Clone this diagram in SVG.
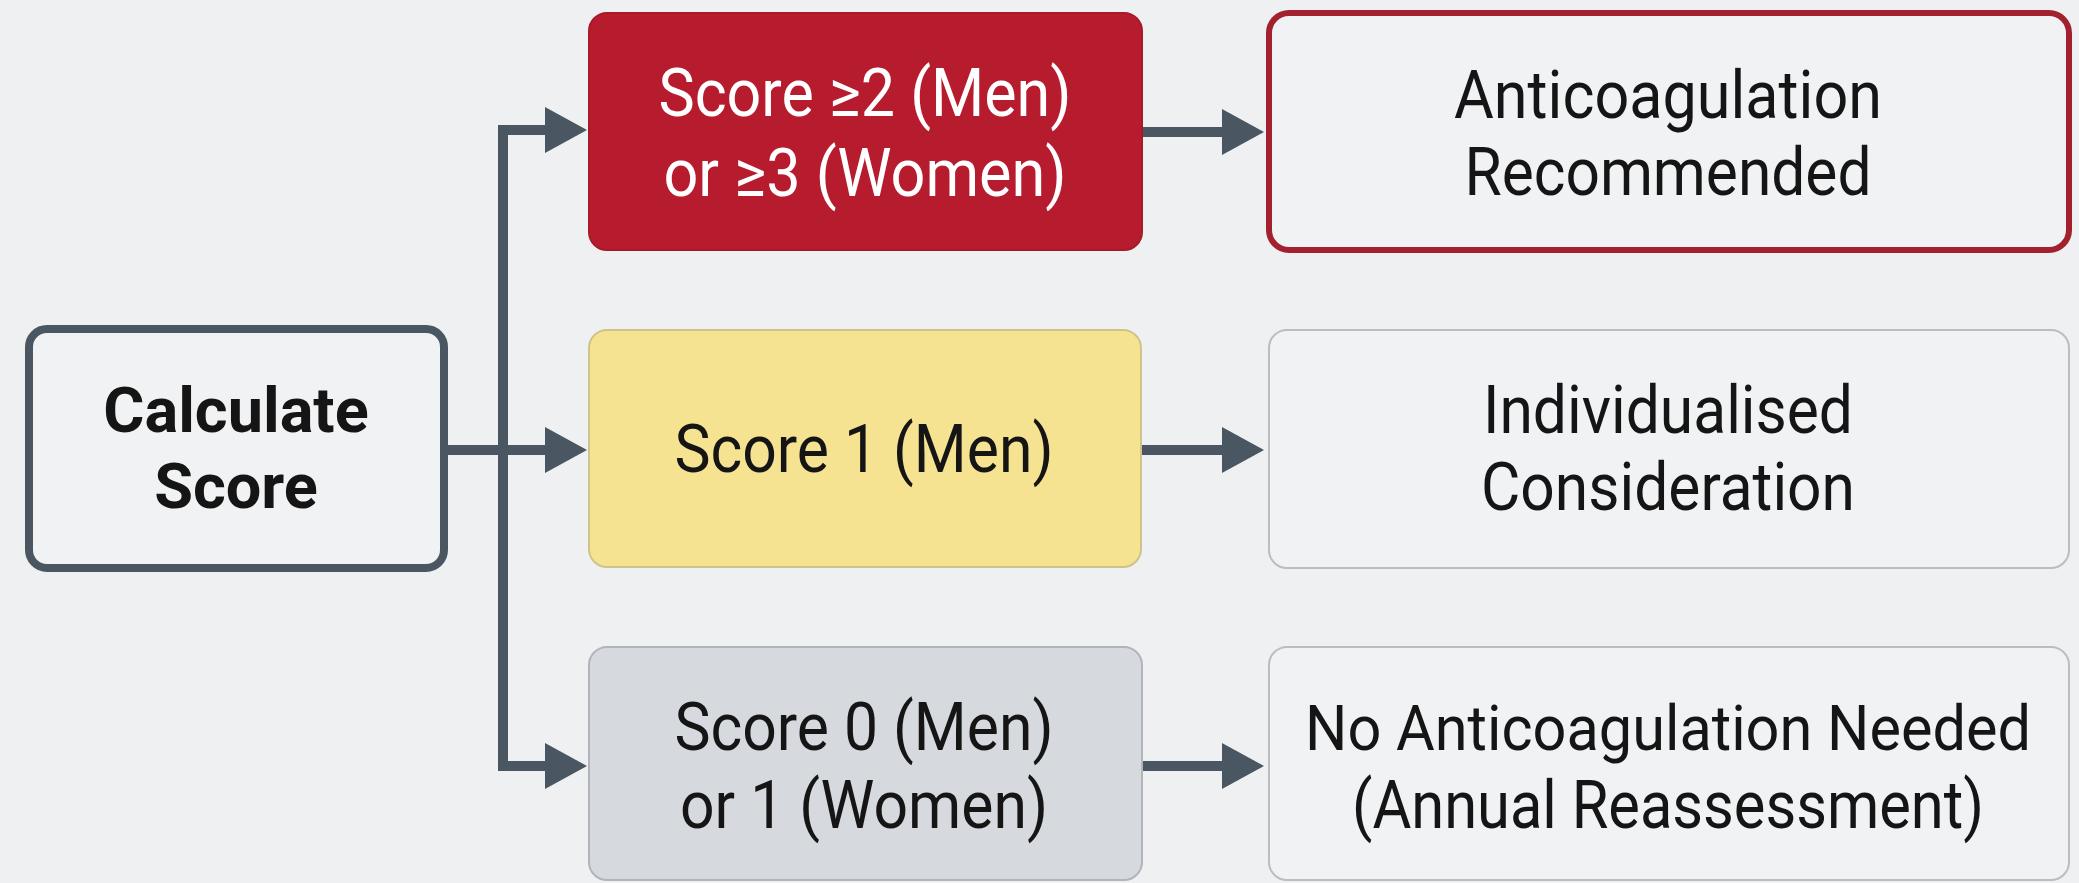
<svg xmlns="http://www.w3.org/2000/svg" width="2079" height="883" viewBox="0 0 2079 883">
<defs>
<style>
.t{font-family:Roboto,"Liberation Sans",sans-serif;font-size:66px;text-anchor:middle;fill:#151515}
.b{font-weight:bold;font-size:63px}
.w{fill:#ffffff}
.c{fill:none;stroke:#4a5661;stroke-width:10}
.out{fill:#f0f2f4;stroke:#b9bec4;stroke-width:2}
</style>
<marker id="ah" markerUnits="userSpaceOnUse" markerWidth="44" markerHeight="48" refX="0" refY="23" orient="auto">
<path d="M0,0 L42,23 L0,46 z" fill="#4a5661"/>
</marker>
</defs>
<rect width="2079" height="883" fill="#eef0f2"/>
<g id="connectors">
<path class="c" d="M503,130 V766" stroke-linecap="square"/>
<path class="c" d="M498,130 H545" marker-end="url(#ah)"/>
<path class="c" d="M448,450 H545" marker-end="url(#ah)"/>
<path class="c" d="M498,766 H545" marker-end="url(#ah)"/>
<path class="c" d="M1142,132 H1222" marker-end="url(#ah)"/>
<path class="c" d="M1142,450 H1222" marker-end="url(#ah)"/>
<path class="c" d="M1142,766 H1222" marker-end="url(#ah)"/>
</g>
<g id="calc">
<rect x="29" y="329" width="415" height="239" rx="18" fill="#f0f2f4" stroke="#4a5661" stroke-width="8"/>
<text class="t b" x="236" y="432">Calculate</text>
<text class="t b" x="236" y="508">Score</text>
</g>
<g id="high">
<rect x="589" y="13" width="553" height="237" rx="18" fill="#b71c2e" stroke="#a81a2a" stroke-width="2"/>
<text class="t w" x="865" y="116" textLength="413" lengthAdjust="spacingAndGlyphs">Score ≥2 (Men)</text>
<text class="t w" x="865" y="196" textLength="403" lengthAdjust="spacingAndGlyphs">or ≥3 (Women)</text>
</g>
<g id="highOut">
<rect x="1269" y="13" width="800" height="237" rx="20" fill="#f0f2f4" stroke="#a3202f" stroke-width="6"/>
<text class="t" x="1668" y="118" textLength="428" lengthAdjust="spacingAndGlyphs">Anticoagulation</text>
<text class="t" x="1668" y="195" textLength="407" lengthAdjust="spacingAndGlyphs">Recommended</text>
</g>
<g id="mid">
<rect x="589" y="330" width="552" height="237" rx="18" fill="#f6e392" stroke="#cfc38c" stroke-width="2"/>
<text class="t" x="864" y="472" textLength="379" lengthAdjust="spacingAndGlyphs">Score 1 (Men)</text>
</g>
<g id="midOut">
<rect class="out" x="1269" y="330" width="800" height="238" rx="18"/>
<text class="t" x="1668" y="433" textLength="370" lengthAdjust="spacingAndGlyphs">Individualised</text>
<text class="t" x="1668" y="510" textLength="374" lengthAdjust="spacingAndGlyphs">Consideration</text>
</g>
<g id="low">
<rect x="589" y="647" width="553" height="233" rx="18" fill="#d6d9de" stroke="#b0b5bb" stroke-width="2"/>
<text class="t" x="864" y="750" textLength="379" lengthAdjust="spacingAndGlyphs">Score 0 (Men)</text>
<text class="t" x="864" y="828" textLength="368" lengthAdjust="spacingAndGlyphs">or 1 (Women)</text>
</g>
<g id="lowOut">
<rect class="out" x="1269" y="647" width="800" height="233" rx="18"/>
<text class="t" x="1668" y="750" font-size="63" style="font-size:63px" textLength="726" lengthAdjust="spacingAndGlyphs">No Anticoagulation Needed</text>
<text class="t" x="1668" y="828" textLength="632" lengthAdjust="spacingAndGlyphs">(Annual Reassessment)</text>
</g>
</svg>
